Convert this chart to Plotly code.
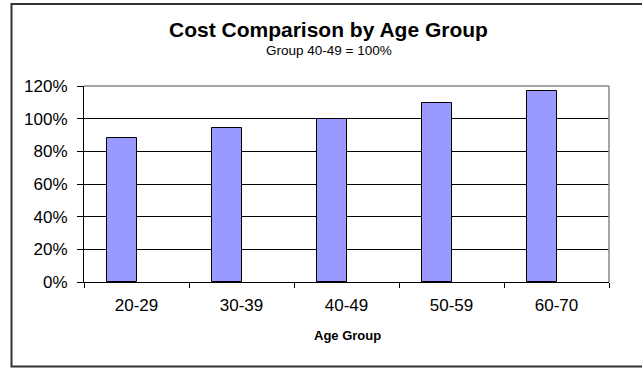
import plotly.graph_objects as go

categories = ["20-29", "30-39", "40-49", "50-59", "60-70"]
cost_ratio = [0.88, 0.943, 1.0, 1.096, 1.171]
y_ticks = [0, 0.2, 0.4, 0.6, 0.8, 1.0, 1.2]

FONT = "Liberation Sans, Arial, sans-serif"

fig = go.Figure()
fig.add_trace(go.Bar(
    x=categories, y=cost_ratio,
    width=0.2857, offset=-0.2857,
    marker=dict(color="#9999FF", line=dict(color="black", width=1)),
    showlegend=False, hoverinfo="skip",
))

# plot area: x 84-609, y 86-282 px
L, R, T, B = 84, 33, 86, 86
W, H = 642, 368
pw, ph = W - L - R, H - T - B

def px(xp):
    return (xp - L) / pw

def py(yp):
    return (H - B - yp) / ph

fig.update_layout(
    width=W, height=H,
    margin=dict(l=L, r=R, t=T, b=B, pad=0),
    paper_bgcolor="white", plot_bgcolor="white",
    font=dict(family=FONT, color="black"),
    bargap=0, showlegend=False,
    xaxis=dict(
        type="category", range=[-0.5, 4.5],
        showline=True, linecolor="black", linewidth=1,
        ticks="outside", tickson="boundaries", ticklen=5, tickcolor="black", tickwidth=1,
        showgrid=False, tickfont=dict(size=17, family=FONT),
        ticklabelstandoff=8,
    ),
    yaxis=dict(
        range=[0, 1.2], tickvals=y_ticks, tickformat=".0%",
        showline=True, linecolor="black", linewidth=1,
        ticks="outside", ticklen=6, tickcolor="black", tickwidth=1,
        showgrid=True, gridcolor="black", gridwidth=1, zeroline=False,
        tickfont=dict(size=17, family=FONT),
        ticklabelstandoff=6,
    ),
    shapes=[
        dict(type="line", xref="paper", yref="paper", x0=0, x1=1, y0=1, y1=1,
             line=dict(color="#888888", width=1.5), layer="above"),
        dict(type="line", xref="paper", yref="paper", x0=1, x1=1, y0=0, y1=1,
             line=dict(color="#888888", width=1.5), layer="above"),
        dict(type="rect", xref="paper", yref="paper",
             x0=px(11.5), x1=px(646), y0=py(366.5), y1=py(4),
             line=dict(color="#333333", width=2), layer="above"),
    ],
    annotations=[
        dict(text="<b>Cost Comparison by Age Group</b>", xref="paper", yref="paper",
             x=px(328), y=py(30), xanchor="center", yanchor="middle",
             showarrow=False, font=dict(size=21, family=FONT)),
        dict(text="Group 40-49 = 100%", xref="paper", yref="paper",
             x=px(329), y=py(51), xanchor="center", yanchor="middle",
             showarrow=False, font=dict(size=13.5, family=FONT)),
        dict(text="<b>Age Group</b>", xref="paper", yref="paper",
             x=px(347), y=py(335), xanchor="center", yanchor="middle",
             showarrow=False, font=dict(size=13, family=FONT)),
    ],
)

fig.write_html("out.html")
